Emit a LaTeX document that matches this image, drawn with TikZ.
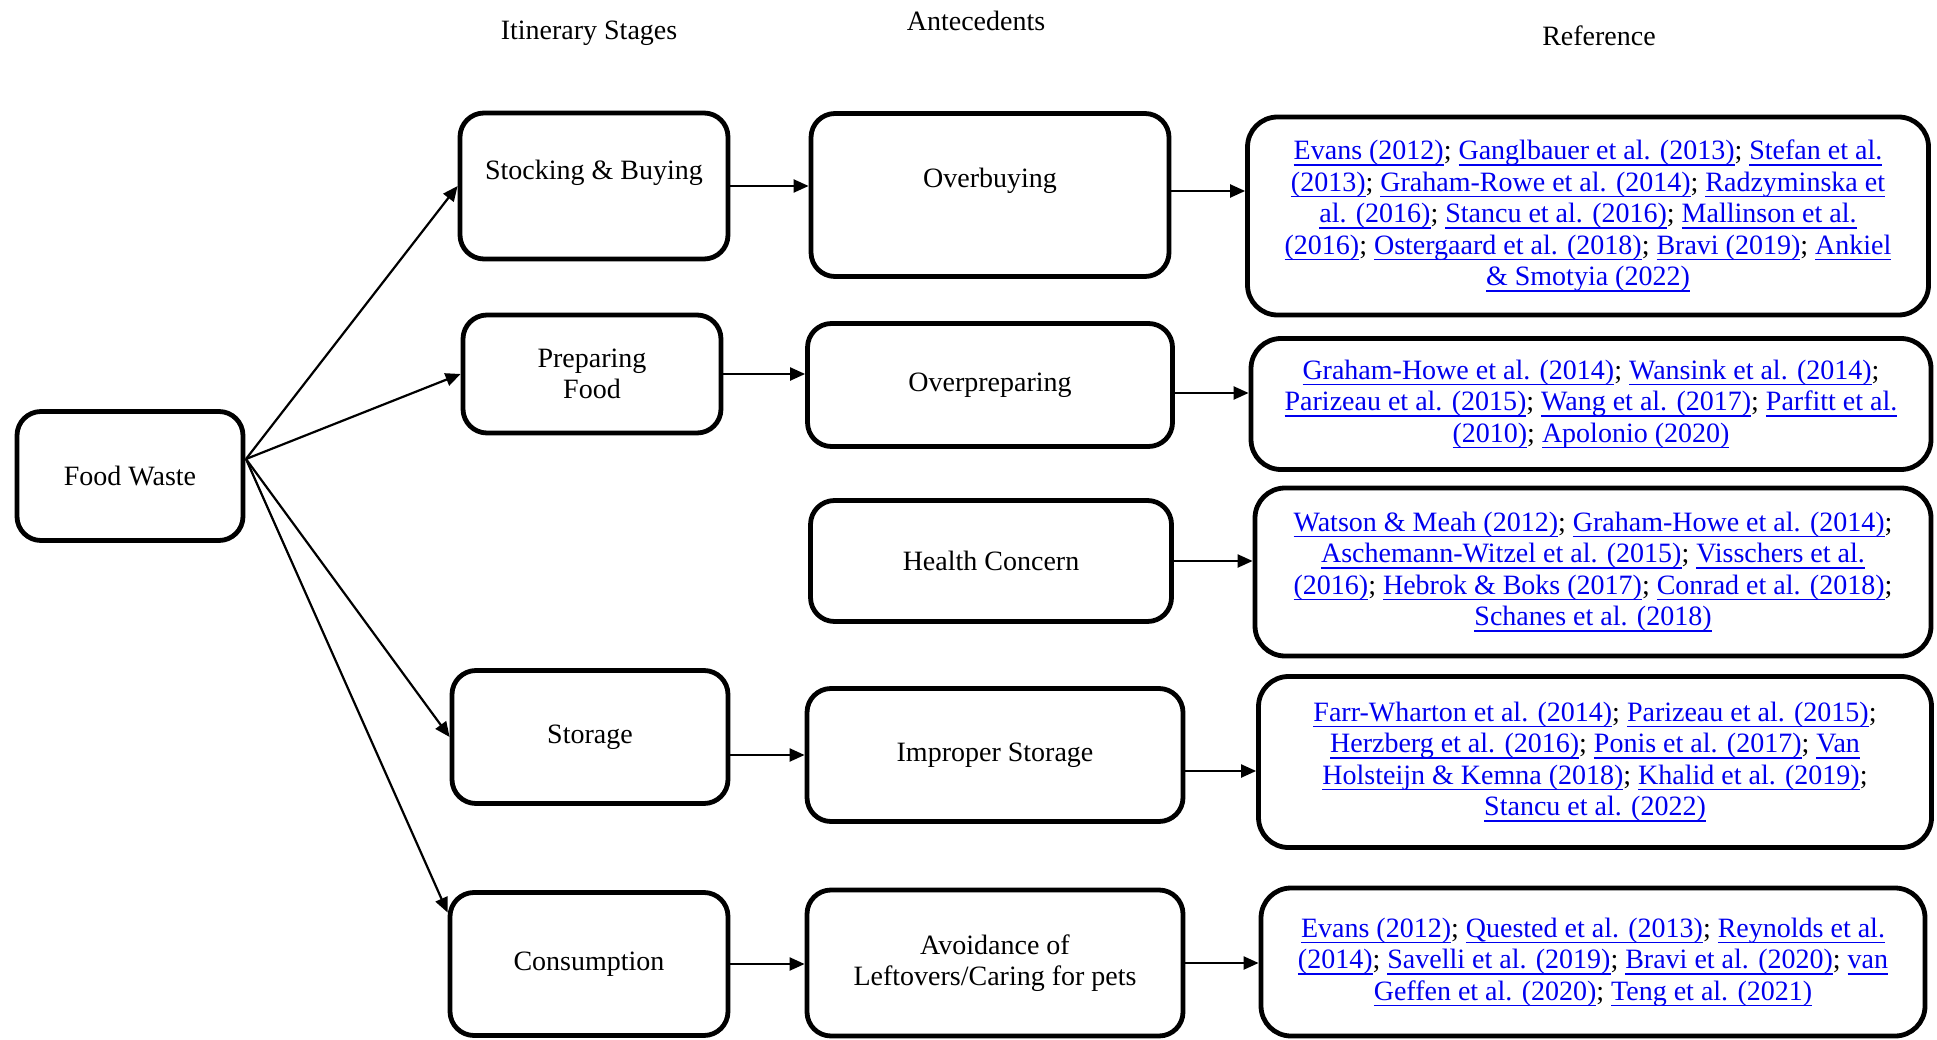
\documentclass[tikz,border=0pt]{standalone}
\usepackage{fontspec}
\setmainfont{Liberation Serif}
\usetikzlibrary{arrows.meta}

\definecolor{linkblue}{RGB}{0,0,238}
\newcommand{\rf}[1]{\textcolor{linkblue}{\setbox0\hbox{#1}\rlap{\rule[-6pt]{\wd0}{1.5pt}}\box0}}

\begin{document}
\begin{tikzpicture}[x=1pt, y=-1pt,
        font=\fontsize{28}{31.5}\selectfont,
        stage/.style={rectangle, draw, line width=4.8pt, rounded corners=24pt, align=center},
        refbox/.style={stage, rounded corners=30pt},
        link/.style={line width=2.2pt, -{Triangle[length=15pt,width=13pt]}}]
        \useasboundingbox (0,0) rectangle (1937,1040);

        % column heads
        \node (hstage) at (589,33) {Itinerary Stages};
        \node (hante) at (976,21) {Antecedents};
        \node (hrefs) at (1599,36) {Reference};

        % stages
        \node[stage, minimum width=226, minimum height=129] (fw) at (130,476) {Food Waste};
        \node[stage, minimum width=268, minimum height=146, label={[yshift=13pt]center:Stocking \& Buying}] (sb) at (594,186) {};
        \node[stage, minimum width=258, minimum height=118] (pf) at (592,374) {Preparing\\Food};
        \node[stage, minimum width=276, minimum height=133] (st) at (590,737) {Storage};
        \node[stage, minimum width=278, minimum height=143] (co) at (589,964) {Consumption};

        % antecedents
        \node[stage, minimum width=358, minimum height=163, label={[yshift=14pt]center:Overbuying}] (ob) at (990,195) {};
        \node[stage, minimum width=365, minimum height=123] (op) at (990,385) {Overpreparing};
        \node[stage, minimum width=361, minimum height=121] (hc) at (991,561) {Health Concern};
        \node[stage, minimum width=376, minimum height=133] (is) at (995,755) {Improper Storage};
        \node[stage, minimum width=376, minimum height=146] (av) at (995,963) {Avoidance of\\Leftovers/Caring for pets};

        % references
        \node[refbox, minimum width=681, minimum height=198] (r1) at (1588,216) {\rf{Evans (2012)}; \rf{Ganglbauer et al. (2013)}; \rf{Stefan et al.}\\
            \rf{(2013)}; \rf{Graham-Rowe et al. (2014)}; \rf{Radzyminska et}\\
            \rf{al. (2016)}; \rf{Stancu et al. (2016)}; \rf{Mallinson et al.}\\
            \rf{(2016)}; \rf{Ostergaard et al. (2018)}; \rf{Bravi (2019)}; \rf{Ankiel}\\
            \rf{\& Smotyia (2022)}};
        \node[refbox, minimum width=680, minimum height=131] (r2) at (1591,404) {\rf{Graham-Howe et al. (2014)}; \rf{Wansink et al. (2014)};\\
            \rf{Parizeau et al. (2015)}; \rf{Wang et al. (2017)}; \rf{Parfitt et al.}\\
            \rf{(2010)}; \rf{Apolonio (2020)}};
        \node[refbox, minimum width=676, minimum height=168] (r3) at (1593,572) {\rf{Watson \& Meah (2012)}; \rf{Graham-Howe et al. (2014)};\\
            \rf{Aschemann-Witzel et al. (2015)}; \rf{Visschers et al.}\\
            \rf{(2016)}; \rf{Hebrok \& Boks (2017)}; \rf{Conrad et al. (2018)};\\
            \rf{Schanes et al. (2018)}};
        \node[refbox, minimum width=673, minimum height=171] (r4) at (1595,762) {\rf{Farr-Wharton et al. (2014)}; \rf{Parizeau et al. (2015)};\\
            \rf{Herzberg et al. (2016)}; \rf{Ponis et al. (2017)}; \rf{Van}\\
            \rf{Holsteijn \& Kemna (2018)}; \rf{Khalid et al. (2019)};\\
            \rf{Stancu et al. (2022)}};
        \node[refbox, minimum width=664, minimum height=148] (r5) at (1593,962) {\rf{Evans (2012)}; \rf{Quested et al. (2013)}; \rf{Reynolds et al.}\\
            \rf{(2014)}; \rf{Savelli et al. (2019)}; \rf{Bravi et al. (2020)}; \rf{van}\\
            \rf{Geffen et al. (2020)}; \rf{Teng et al. (2021)}};

        % fan out of food waste
        \coordinate (hub) at (246,459);
        \draw[link] (hub) -- (sb.west);
        \draw[link] (hub) -- (pf.west);
        \draw[link] (hub) -- (st.west);
        \draw[link] (hub) -- (co.160);

        % stage to antecedent
        \draw[link] (sb.east) -- (sb.east -| ob.west);
        \draw[link] (pf.east) -- (pf.east -| op.west);
        \draw[link] (is.west -| st.east) -- (is.west);
        \draw[link] (co.east) -- (co.east -| av.west);

        % antecedent to reference
        \draw[link] ([yshift=4pt]ob.east) -- ([yshift=4pt]ob.east -| r1.west);
        \draw[link] ([yshift=-8pt]op.east) -- ([yshift=-8pt]op.east -| r2.west);
        \draw[link] (hc.east) -- (hc.east -| r3.west);
        \draw[link] ([yshift=-16pt]is.east) -- ([yshift=-16pt]is.east -| r4.west);
        \draw[link] (av.east) -- (av.east -| r5.west);
    \end{tikzpicture}
\end{document}
